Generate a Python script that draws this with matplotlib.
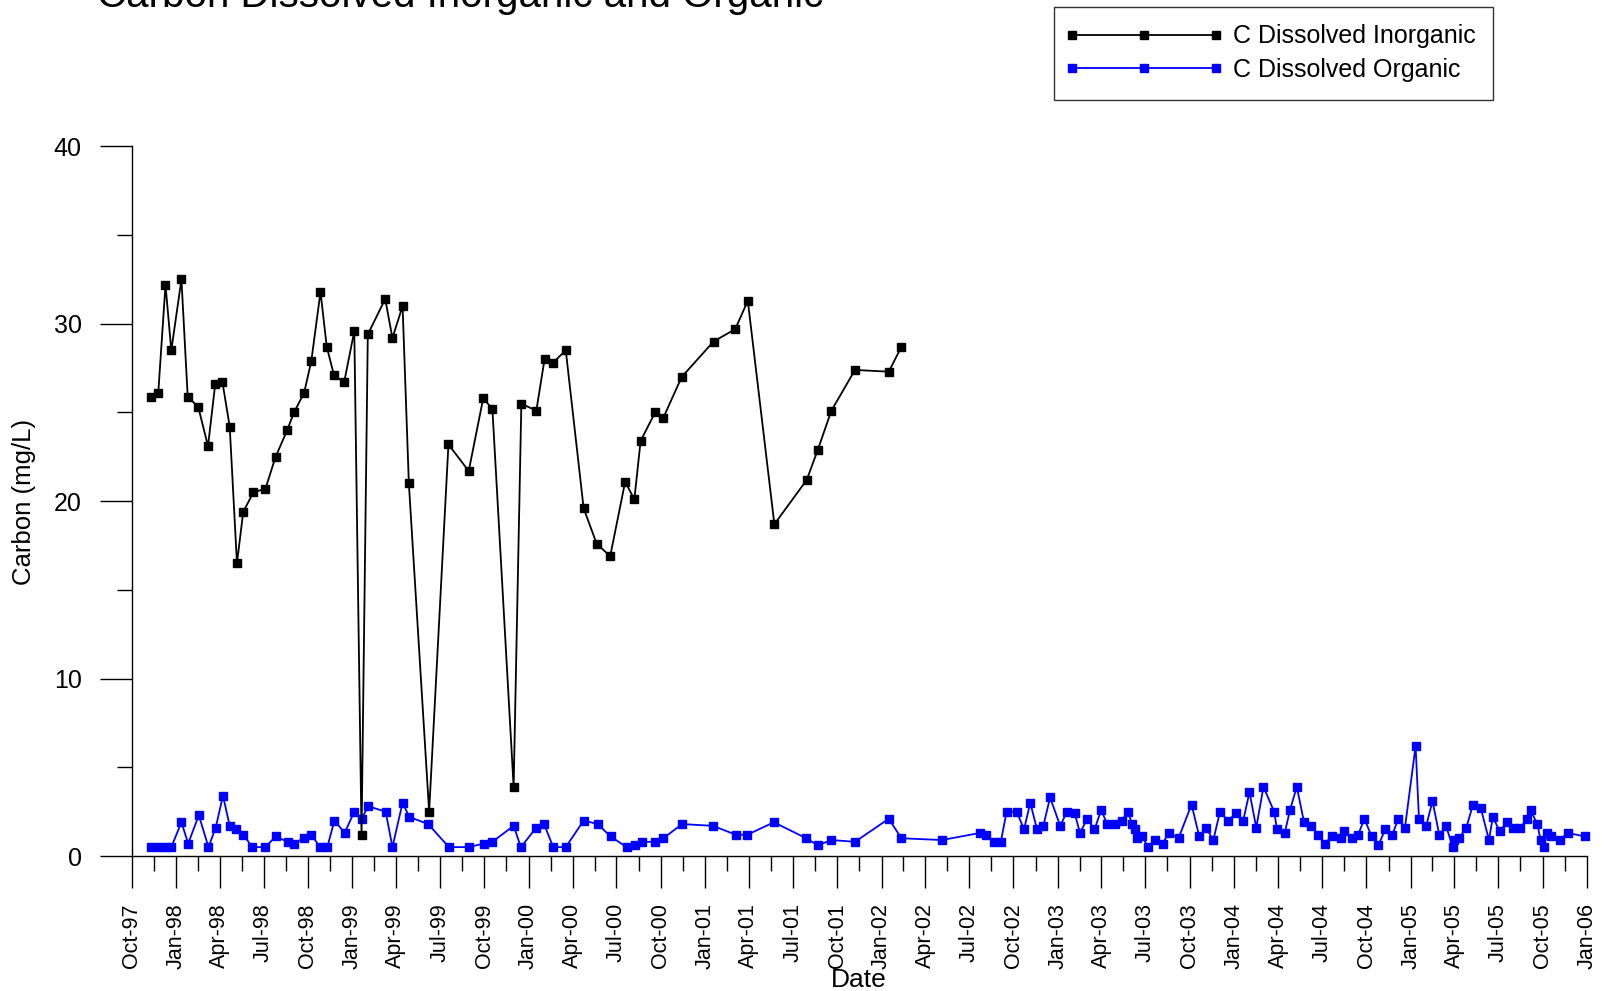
import matplotlib
matplotlib.use('Agg')
import matplotlib.pyplot as plt
import matplotlib.dates as mdates
from matplotlib.ticker import MultipleLocator, FixedLocator
from matplotlib.legend_handler import HandlerLine2D
import numpy as np
import pandas as pd

plt.rcParams['font.family'] = ['Liberation Sans', 'DejaVu Sans']

# ---------------- data ----------------
inorg_dates = [
    "1997-11-10", "1997-11-25", "1997-12-10", "1997-12-22",
    "1998-01-12", "1998-01-25", "1998-02-16", "1998-03-08", "1998-03-23", "1998-04-07",
    "1998-04-22", "1998-05-07", "1998-05-20", "1998-06-10", "1998-07-05", "1998-07-26",
    "1998-08-19", "1998-09-02", "1998-09-23", "1998-10-08", "1998-10-27", "1998-11-09",
    "1998-11-24", "1998-12-15",
    "1999-01-05", "1999-01-20", "1999-02-02", "1999-03-10", "1999-03-25", "1999-04-15",
    "1999-04-28", "1999-06-09", "1999-07-19", "1999-08-30", "1999-09-29", "1999-10-18",
    "1999-12-01", "1999-12-17",
    "2000-01-17", "2000-02-03", "2000-02-20", "2000-03-18", "2000-04-24", "2000-05-21",
    "2000-06-18", "2000-07-19", "2000-08-07", "2000-08-20", "2000-09-19", "2000-10-06",
    "2000-11-13",
    "2001-01-18", "2001-03-04", "2001-03-30", "2001-05-24", "2001-07-30", "2001-08-22",
    "2001-09-19", "2001-11-07",
    "2002-01-16", "2002-02-11",
]
inorg_vals = [
    25.9, 26.1, 32.2, 28.5,
    32.5, 25.9, 25.3, 23.1, 26.6, 26.7,
    24.2, 16.5, 19.4, 20.5, 20.7, 22.5,
    24.0, 25.0, 26.1, 27.9, 31.8, 28.7,
    27.1, 26.7,
    29.6, 1.2, 29.4, 31.4, 29.2, 31.0,
    21.0, 2.5, 23.2, 21.7, 25.8, 25.2,
    3.9, 25.5,
    25.1, 28.0, 27.8, 28.5, 19.6, 17.6,
    16.9, 21.1, 20.1, 23.4, 25.0, 24.7,
    27.0,
    29.0, 29.7, 31.3, 18.7, 21.2, 22.9,
    25.1, 27.4,
    27.3, 28.7,
]

org_dates = [
    "1997-11-09", "1997-11-24", "1997-12-08", "1997-12-22",
    "1998-01-12", "1998-01-26", "1998-02-17", "1998-03-09", "1998-03-24", "1998-04-08",
    "1998-04-22", "1998-05-06", "1998-05-20", "1998-06-08", "1998-07-05", "1998-07-26",
    "1998-08-20", "1998-09-02", "1998-09-22", "1998-10-08", "1998-10-26", "1998-11-10",
    "1998-11-25", "1998-12-16",
    "1999-01-05", "1999-01-20", "1999-02-03", "1999-03-11", "1999-03-25", "1999-04-15",
    "1999-04-29", "1999-06-07", "1999-07-20", "1999-08-30", "1999-09-30", "1999-10-18",
    "1999-12-01", "1999-12-16",
    "2000-01-17", "2000-02-02", "2000-02-21", "2000-03-18", "2000-04-24", "2000-05-23",
    "2000-06-19", "2000-07-22", "2000-08-08", "2000-08-22", "2000-09-19", "2000-10-06",
    "2000-11-14",
    "2001-01-17", "2001-03-05", "2001-03-29", "2001-05-23", "2001-07-29", "2001-08-22",
    "2001-09-19", "2001-11-07",
    "2002-01-16", "2002-02-11", "2002-05-06", "2002-07-24", "2002-08-06", "2002-08-22",
    "2002-09-05", "2002-09-17", "2002-10-08", "2002-10-23", "2002-11-05", "2002-11-19",
    "2002-12-02", "2002-12-16",
    "2003-01-06", "2003-01-20", "2003-02-05", "2003-02-16", "2003-03-03", "2003-03-18",
    "2003-04-01", "2003-04-13", "2003-04-29", "2003-05-14", "2003-05-26", "2003-06-04",
    "2003-06-10", "2003-06-14", "2003-06-25", "2003-07-07", "2003-07-22", "2003-08-06",
    "2003-08-19", "2003-09-08", "2003-10-05", "2003-10-21", "2003-11-04", "2003-11-19",
    "2003-12-03", "2003-12-19",
    "2004-01-06", "2004-01-20", "2004-02-02", "2004-02-16", "2004-03-02", "2004-03-24",
    "2004-03-30", "2004-04-15", "2004-04-26", "2004-05-10", "2004-05-25", "2004-06-09",
    "2004-06-22", "2004-07-07", "2004-07-21", "2004-08-09", "2004-08-16", "2004-09-02",
    "2004-09-14", "2004-09-27", "2004-10-12", "2004-10-26", "2004-11-09", "2004-11-24",
    "2004-12-06", "2004-12-20",
    "2005-01-11", "2005-01-18", "2005-02-02", "2005-02-15", "2005-03-01", "2005-03-15",
    "2005-03-29", "2005-03-31", "2005-04-11", "2005-04-26", "2005-05-10", "2005-05-26",
    "2005-06-12", "2005-06-20", "2005-07-04", "2005-07-19", "2005-08-01", "2005-08-16",
    "2005-08-30", "2005-09-06", "2005-09-20", "2005-09-27", "2005-10-03", "2005-10-11",
    "2005-10-18", "2005-11-06", "2005-11-22", "2005-12-28",
]
org_vals = [
    0.5, 0.5, 0.5, 0.5,
    1.9, 0.7, 2.3, 0.5, 1.6, 3.4,
    1.7, 1.5, 1.2, 0.5, 0.5, 1.1,
    0.8, 0.7, 1.0, 1.2, 0.5, 0.5,
    2.0, 1.3,
    2.5, 2.1, 2.8, 2.5, 0.5, 3.0,
    2.2, 1.8, 0.5, 0.5, 0.7, 0.8,
    1.7, 0.5,
    1.6, 1.8, 0.5, 0.5, 2.0, 1.8,
    1.1, 0.5, 0.6, 0.8, 0.8, 1.0,
    1.8,
    1.7, 1.2, 1.2, 1.9, 1.0, 0.6,
    0.9, 0.8,
    2.1, 1.0, 0.9, 1.3, 1.2, 0.8,
    0.8, 2.5, 2.5, 1.5, 3.0, 1.5,
    1.7, 3.3,
    1.7, 2.5, 2.4, 1.3, 2.1, 1.5,
    2.6, 1.8, 1.8, 2.0, 2.5, 1.8,
    1.5, 1.0, 1.1, 0.5, 0.9, 0.7,
    1.3, 1.0, 2.9, 1.1, 1.6, 0.9,
    2.5, 2.0,
    2.4, 2.0, 3.6, 1.6, 3.9, 2.5,
    1.5, 1.3, 2.6, 3.9, 1.9, 1.7,
    1.2, 0.7, 1.1, 1.0, 1.4, 1.0,
    1.2, 2.1, 1.1, 0.6, 1.5, 1.2,
    2.1, 1.6,
    6.2, 2.1, 1.7, 3.1, 1.2, 1.7,
    0.5, 0.9, 1.0, 1.6, 2.9, 2.7,
    0.9, 2.2, 1.4, 1.9, 1.6, 1.6,
    2.1, 2.6, 1.8, 0.9, 0.5, 1.3,
    1.1, 0.9, 1.3, 1.1,
]

series_labels = ["C Dissolved Inorganic", "C Dissolved Organic"]
title_text = "Carbon Dissolved Inorganic and Organic"
x_label = "Date"
y_label = "Carbon (mg/L)"
x_start, x_end = "1997-10-01", "2006-01-01"

# ---------------- figure ----------------
W, H = 1602, 991
fig = plt.figure(figsize=(W / 100, H / 100), dpi=100)
fig.patch.set_facecolor('white')

ax_left, ax_right, ax_top, ax_bottom = 131.7, 1587.0, 146.4, 856.0
ax = fig.add_axes([ax_left / W, (H - ax_bottom) / H,
                   (ax_right - ax_left) / W, (ax_bottom - ax_top) / H])

l_org, = ax.plot(pd.to_datetime(org_dates), org_vals, color='#0000ff', lw=1.3,
                 marker='s', ms=6, mec='#0000ff', mfc='#0000ff',
                 label=series_labels[1], zorder=2, clip_on=False)
l_inorg, = ax.plot(pd.to_datetime(inorg_dates), inorg_vals, color='black', lw=1.3,
                   marker='s', ms=6, mec='black', mfc='black',
                   label=series_labels[0], zorder=3, clip_on=False)

ax.set_xlim(pd.Timestamp(x_start), pd.Timestamp(x_end))
ax.set_ylim(0, 40)

ax.xaxis.set_major_locator(mdates.MonthLocator(bymonth=[1, 4, 7, 10]))
ax.xaxis.set_major_formatter(mdates.DateFormatter('%b-%y'))
q = pd.date_range(x_start, x_end, freq='QS-OCT')
qn = mdates.date2num(q)
ax.xaxis.set_minor_locator(FixedLocator((qn[:-1] + qn[1:]) / 2))

ax.yaxis.set_major_locator(MultipleLocator(10))
ax.yaxis.set_minor_locator(MultipleLocator(5))

for s in ['top', 'right']:
    ax.spines[s].set_visible(False)
for s in ['left', 'bottom']:
    ax.spines[s].set_linewidth(1.0)

ax.tick_params(axis='both', which='major', length=23, width=1.0, direction='out')
ax.tick_params(axis='both', which='minor', length=11, width=1.0, direction='out')
ax.tick_params(axis='x', which='major', labelsize=15.5, labelrotation=90, pad=11)
ax.tick_params(axis='y', which='major', labelsize=18, pad=13)

# axis labels and title (placed in figure pixels)
fig.text(859 / W, 1 - 987 / H, x_label, fontsize=19, ha='center', va='baseline')
fig.text(24.5 / W, 1 - 501.6 / H, y_label, fontsize=18.5, rotation=90,
         ha='center', va='center')
fig.text(97 / W, 1 - 7 / H, title_text, fontsize=29, ha='left', va='baseline')

leg = fig.legend(handles=[l_inorg, l_org], labels=series_labels,
                 loc='upper left', bbox_to_anchor=(1054 / W, 1 - 7 / H),
                 borderaxespad=0, fontsize=18, frameon=True, fancybox=False,
                 edgecolor='#333333', framealpha=1,
                 handler_map={l_inorg: HandlerLine2D(marker_pad=0, numpoints=3),
                              l_org: HandlerLine2D(marker_pad=0, numpoints=3)},
                 handlelength=5.76, handletextpad=0.7, borderpad=0.7,
                 labelspacing=0.38, markerscale=0.85)
leg.get_frame().set_linewidth(1.0)

fig.savefig('out.png', dpi=100, facecolor='white')
